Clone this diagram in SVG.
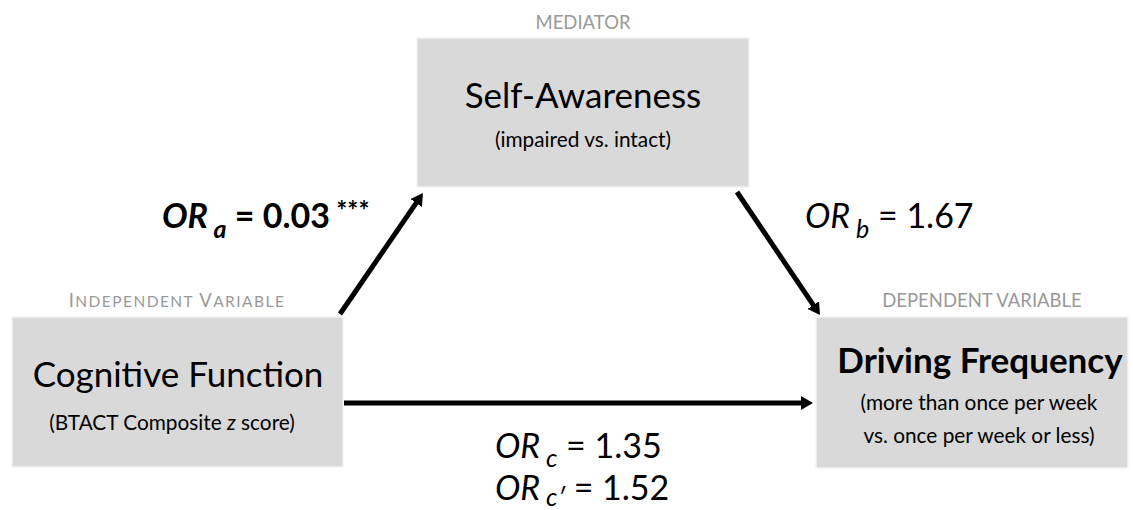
<svg xmlns="http://www.w3.org/2000/svg" width="1133" height="510" viewBox="0 0 1133 510">
<style>
text{font-family:Lato,"Open Sans","Liberation Sans",sans-serif;fill:#000}
.box{fill:#d9d9d9;stroke:#f2f2f2;stroke-width:1.5}
.cap{fill:#999;font-size:18.5px}
.title{font-size:35px}
.sub{font-size:20.8px}
.lbl{font-size:34px}
.conn{stroke:#000;stroke-width:5;fill:none}
</style>
<defs>
<marker id="ah" viewBox="0 0 12 14" refX="2" refY="7" markerWidth="12" markerHeight="14" markerUnits="userSpaceOnUse" orient="auto">
<path d="M0,0 L12,7 L0,14 z" fill="#000"/>
</marker>
</defs>
<rect width="1133" height="510" fill="#fff"/>
<g id="mediator">
<text class="cap" x="583" y="29" text-anchor="middle">MEDIATOR</text>
<rect class="box" x="417" y="38" width="332" height="149"/>
<text class="title" x="583" y="108" text-anchor="middle">Self-Awareness</text>
<text class="sub" x="583" y="147" text-anchor="middle">(impaired vs. intact)</text>
</g>
<g id="independent">
<text class="cap" x="177" y="307" text-anchor="middle" letter-spacing="1.45"><tspan>I</tspan><tspan font-size="15.5">NDEPENDENT </tspan><tspan>V</tspan><tspan font-size="15.5">ARIABLE</tspan></text>
<rect class="box" x="12" y="317" width="331" height="150"/>
<text class="title" x="178" y="387" text-anchor="middle">Cognitive Function</text>
<text class="sub" x="172" y="430" text-anchor="middle">(BTACT Composite <tspan font-style="italic">z</tspan> score)</text>
</g>
<g id="dependent">
<text class="cap" x="982" y="307" text-anchor="middle">DEPENDENT VARIABLE</text>
<rect class="box" x="816" y="317" width="312" height="151"/>
<text class="title" x="980" y="373" text-anchor="middle" font-weight="bold">Driving Frequency</text>
<text class="sub" x="979" y="410" text-anchor="middle">(more than once per week</text>
<text class="sub" x="979" y="443" text-anchor="middle">vs. once per week or less)</text>
</g>
<g id="connectors">
<line class="conn" x1="340" y1="314" x2="417.3" y2="201.3" marker-end="url(#ah)"/>
<line class="conn" x1="737" y1="192" x2="814.4" y2="306.7" marker-end="url(#ah)"/>
<line class="conn" x1="344" y1="403" x2="803" y2="403" marker-end="url(#ah)"/>
</g>
<g id="labels">
<text class="lbl" x="162" y="228" font-weight="bold"><tspan font-style="italic">OR</tspan><tspan font-style="italic" font-size="25" dy="10"> a</tspan><tspan dy="-10"> = 0.03</tspan><tspan font-size="26" dy="-8"> ***</tspan></text>
<text class="lbl" x="805" y="228"><tspan font-style="italic">OR</tspan><tspan font-style="italic" font-size="25" dy="10"> b</tspan><tspan dy="-10"> = 1.67</tspan></text>
<text class="lbl" x="495" y="458"><tspan font-style="italic">OR</tspan><tspan font-style="italic" font-size="25" dy="9"> c</tspan><tspan dy="-9"> = 1.35</tspan></text>
<text class="lbl" x="495" y="500"><tspan font-style="italic">OR</tspan><tspan font-style="italic" font-size="25" dy="6"> c′</tspan><tspan dy="-6"> = 1.52</tspan></text>
</g>
</svg>
